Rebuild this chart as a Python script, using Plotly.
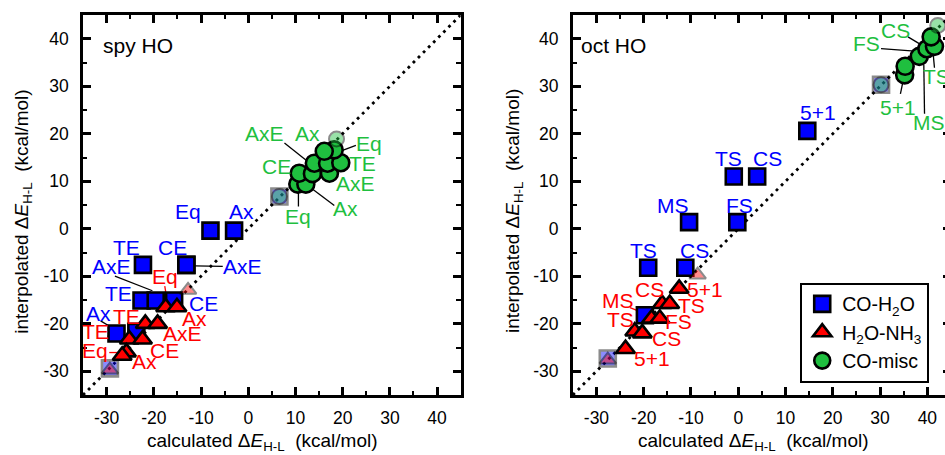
import plotly.graph_objects as go

# ---------------- data ----------------
tick_vals = [-30, -20, -10, 0, 10, 20, 30, 40]
tick_text = ["-30", "-20", "-10", "0", "10", "20", "30", "40"]
diag = [-35, 45]

# spy HO panel
spy_sq_x = [-8.0, -3.0, -22.3, -13.1, -13.1, -22.6, -19.6, -15.7, -27.9, -23.7]
spy_sq_y = [-0.4, -0.4, -7.6, -7.6, -7.6, -15.1, -15.1, -15.1, -22.05, -21.7]
spy_tri_x = [-17.5, -15.1, -21.8, -19.2, -25.2, -22.4, -25.8, -26.7]
spy_tri_y = [-16.5, -16.5, -20.0, -20.0, -23.3, -23.3, -26.0, -26.7]
spy_circ_x = [10.5, 12.2, 10.8, 13.6, 17.2, 14.0, 16.8, 19.6, 18.2, 16.1]
spy_circ_y = [9.4, 9.4, 11.7, 11.6, 11.7, 13.8, 13.8, 13.9, 16.6, 16.3]
spy_ref_sq_x = [-29.3, 6.6]
spy_ref_sq_y = [-29.4, 6.8]
spy_ref_tri_x = [-29.3, -12.75]
spy_ref_tri_y = [-29.7, -12.9]
spy_ref_circ_x = [6.6, 18.7]
spy_ref_circ_y = [6.8, 18.9]

# oct HO panel
oct_sq_x = [-0.95, 4.0, -10.4, -0.2, -19.05, -11.2, -19.75, 14.6]
oct_sq_y = [11.0, 11.0, 1.4, 1.4, -8.2, -8.2, -18.2, 20.6]
oct_tri_x = [-12.5, -16.1, -14.5, -18.35, -16.6, -21.9, -20.3, -23.85]
oct_tri_y = [-12.6, -15.8, -15.8, -18.9, -18.9, -21.6, -22.0, -25.3]
oct_circ_x = [35.2, 35.3, 38.3, 39.9, 41.5, 40.8]
oct_circ_y = [32.4, 34.2, 36.3, 37.9, 38.4, 40.4]
oct_ref_sq_x = [-27.6, 30.2]
oct_ref_sq_y = [-27.3, 30.3]
oct_ref_tri_x = [-27.6, -8.6]
oct_ref_tri_y = [-27.6, -9.7]
oct_ref_circ_x = [30.2, 42.2]
oct_ref_circ_y = [30.3, 42.8]

# labels
spy_lab_text = ["Eq", "Ax", "TE", "CE", "AxE", "AxE", "TE", "CE", "Ax",
                "Eq", "Ax", "TE", "AxE", "TE", "CE", "Eq", "Ax",
                "AxE", "Ax", "Eq", "TE", "CE", "AxE", "Ax", "Eq"]
spy_lab_x = [-12.8, -1.5, -25.8, -16.05, -1.3, -29.0, -27.5, -9.4, -31.8,
             -17.7, -11.3, -25.8, -13.9, -32.3, -17.7, -32.5, -21.9,
             3.45, 12.6, 25.6, 24.1, 5.9, 22.7, 20.7, 10.5]
spy_lab_y = [3.6, 3.6, -3.9, -3.9, -8.0, -8.0, -13.6, -15.7, -17.8,
             -10.1, -18.9, -18.5, -22.05, -21.7, -25.6, -25.6, -28.0,
             20.15, 20.15, 17.9, 13.7, 13.1, 9.6, 4.2, 2.6]
spy_lab_grp = ["b"] * 9 + ["r"] * 8 + ["g"] * 8

oct_lab_text = ["TS", "CS", "MS", "FS", "TS", "CS", "5+1",
                "5+1", "CS", "MS", "TS", "TS", "FS", "CS", "5+1",
                "CS", "FS", "5+1", "MS", "TS"]
oct_lab_x = [-2.15, 6.15, -13.8, 0.3, -20.1, -9.2, 16.9,
             -7.1, -18.7, -25.4, -9.8, -25.0, -12.6, -15.2, -18.35,
             33.2, 27.1, 33.75, 40.45, 41.85]
oct_lab_y = [14.7, 14.7, 5.0, 5.0, -4.5, -4.5, 24.4,
             -12.8, -12.8, -15.0, -16.1, -19.2, -19.5, -23.1, -27.3,
             41.8, 39.1, 25.6, 22.3, 32.0]
oct_lab_grp = ["b"] * 7 + ["r"] * 8 + ["g"] * 5

# leader lines: x0, y0, x1, y1, colour group
spy_lead_x0 = [-11.3, -28.24, -31.27, -17.68, -29.86, -29.44, 7.67, 22.8, 18.23, 10.63]
spy_lead_y0 = [-7.8, -9.96, -19.4, -12.07, -22.6, -26.06, 18.03, 17.53, 4.88, 4.67]
spy_lead_x1 = [-5.4, -20.3, -28.24, -17.19, -25.78, -27.33, 12.6, 19.99, 13.65, 10.63]
spy_lead_y1 = [-7.9, -13.05, -21.2, -15.02, -23.18, -26.06, 14.16, 16.48, 8.33, 7.83]
spy_lead_grp = ["k", "k", "k", "r", "r", "r", "k", "k", "k", "k"]

oct_lead_x0 = [-22.9, 30.2, 35.9, 34.3, 39.4, 41.5]
oct_lead_y0 = [-16.6, 37.9, 40.4, 28.4, 24.2, 33.9]
oct_lead_x1 = [-18.7, 37.3, 39.25, 35.0, 39.25, 41.15]
oct_lead_y1 = [-18.3, 37.4, 38.4, 31.75, 34.55, 37.7]
oct_lead_grp = ["r", "k", "k", "k", "k", "k"]

# ---------------- style ----------------
FONT = "Liberation Sans, Arial, sans-serif"
BLUE = "#0000FF"
RED = "#FF0000"
GREEN = "#1FBF3F"
COL = {"b": BLUE, "r": RED, "g": GREEN, "k": "black"}
LAB_SIZE = 21

W, H = 960, 455
ML, MR, MT, MB = 83, 6, 15, 60
PW = W - ML - MR
PH = H - MT - MB

fig = go.Figure()


def add_panel(xa, ya, sqx, sqy, trx, tr_y, cx, cy, rsx, rsy, rtx, rty, rcx, rcy, legend):
    fig.add_trace(go.Scatter(x=diag, y=diag, mode="lines", xaxis=xa, yaxis=ya,
                             line=dict(color="black", width=2.8, dash="2.8px,4.4px"),
                             showlegend=False, hoverinfo="skip"))
    fig.add_trace(go.Scatter(x=sqx, y=sqy, mode="markers", xaxis=xa, yaxis=ya,
                             name="CO-H<sub>2</sub>O", showlegend=legend,
                             marker=dict(symbol="square", size=16, color=BLUE,
                                         line=dict(color="black", width=2.6))))
    fig.add_trace(go.Scatter(x=trx, y=tr_y, mode="markers", xaxis=xa, yaxis=ya,
                             name="H<sub>2</sub>O-NH<sub>3</sub>", showlegend=legend,
                             marker=dict(symbol="triangle-up", size=16.5, color=RED,
                                         line=dict(color="black", width=2.6))))
    fig.add_trace(go.Scatter(x=cx, y=cy, mode="markers", xaxis=xa, yaxis=ya,
                             name="CO-misc", showlegend=legend,
                             marker=dict(symbol="circle", size=17, color=GREEN,
                                         line=dict(color="black", width=2.6))))
    fig.add_trace(go.Scatter(x=rsx, y=rsy, mode="markers", xaxis=xa, yaxis=ya,
                             showlegend=False,
                             marker=dict(symbol="square", size=16, color=BLUE, opacity=0.45,
                                         line=dict(color="black", width=2.6))))
    fig.add_trace(go.Scatter(x=rtx, y=rty, mode="markers", xaxis=xa, yaxis=ya,
                             showlegend=False,
                             marker=dict(symbol="triangle-up", size=14.5, color=RED, opacity=0.45,
                                         line=dict(color="black", width=2))))
    fig.add_trace(go.Scatter(x=rcx, y=rcy, mode="markers", xaxis=xa, yaxis=ya,
                             showlegend=False,
                             marker=dict(symbol="circle", size=15, color=GREEN, opacity=0.45,
                                         line=dict(color="black", width=2))))


add_panel("x", "y", spy_sq_x, spy_sq_y, spy_tri_x, spy_tri_y, spy_circ_x, spy_circ_y,
          spy_ref_sq_x, spy_ref_sq_y, spy_ref_tri_x, spy_ref_tri_y, spy_ref_circ_x, spy_ref_circ_y,
          False)
add_panel("x2", "y2", oct_sq_x, oct_sq_y, oct_tri_x, oct_tri_y, oct_circ_x, oct_circ_y,
          oct_ref_sq_x, oct_ref_sq_y, oct_ref_tri_x, oct_ref_tri_y, oct_ref_circ_x, oct_ref_circ_y,
          True)

annotations = []
shapes = []


def add_labels(xr, yr, texts, xs, ys, grps):
    for t, x, y, g in zip(texts, xs, ys, grps):
        annotations.append(dict(x=x, y=y, xref=xr, yref=yr, text=t, showarrow=False,
                                xanchor="center", yanchor="middle", borderpad=0,
                                font=dict(family=FONT, size=LAB_SIZE, color=COL[g])))


def add_leaders(xr, yr, x0s, y0s, x1s, y1s, grps):
    for x0, y0, x1, y1, g in zip(x0s, y0s, x1s, y1s, grps):
        shapes.append(dict(type="line", xref=xr, yref=yr, x0=x0, y0=y0, x1=x1, y1=y1,
                           line=dict(color=COL[g], width=1.3), layer="below"))


add_leaders("x", "y", spy_lead_x0, spy_lead_y0, spy_lead_x1, spy_lead_y1, spy_lead_grp)
add_leaders("x2", "y2", oct_lead_x0, oct_lead_y0, oct_lead_x1, oct_lead_y1, oct_lead_grp)
add_labels("x", "y", spy_lab_text, spy_lab_x, spy_lab_y, spy_lab_grp)
add_labels("x2", "y2", oct_lab_text, oct_lab_x, oct_lab_y, oct_lab_grp)

annotations.append(dict(x=-30.9, y=38.6, xref="x", yref="y", text="spy HO", showarrow=False,
                        xanchor="left", yanchor="middle", borderpad=0,
                        font=dict(family=FONT, size=LAB_SIZE, color="black")))
annotations.append(dict(x=-33.4, y=38.6, xref="x2", yref="y2", text="oct HO", showarrow=False,
                        xanchor="left", yanchor="middle", borderpad=0,
                        font=dict(family=FONT, size=LAB_SIZE, color="black")))


def px2paper_x(px):
    return (px - ML) / PW


def px2paper_y(py):
    return (H - MB - py) / PH


xtitle = "calculated \u0394<i>E</i><sub>H-L</sub>  (kcal/mol)"
ytitle = "interpolated \u0394<i>E</i><sub>H-L</sub>  (kcal/mol)"
for cx in (263, 756):
    annotations.append(dict(x=px2paper_x(cx), y=px2paper_y(441.7), xref="paper", yref="paper",
                            text=xtitle, showarrow=False, xanchor="center", yanchor="middle",
                            font=dict(family=FONT, size=19, color="black")))
for cx in (22, 515):
    annotations.append(dict(x=px2paper_x(cx), y=px2paper_y(211.5), xref="paper", yref="paper",
                            text=ytitle, showarrow=False, xanchor="center", yanchor="middle",
                            textangle=-90,
                            font=dict(family=FONT, size=19, color="black")))

axis_common = dict(range=[-35, 45], tickvals=tick_vals, ticktext=tick_text,
                   ticks="inside", ticklen=8, tickwidth=2.5, tickcolor="black",
                   showline=True, linewidth=2.6, linecolor="black", mirror="ticks",
                   showgrid=False, zeroline=False,
                   tickfont=dict(family=FONT, size=17.5, color="black"),
                   minor=dict(dtick=5, tick0=0, ticks="inside", ticklen=4.5, tickwidth=2,
                              tickcolor="black", showgrid=False))

left_dom = [0, 379 / PW]
right_dom = [(574.5 - ML) / PW, 1.0]

fig.update_layout(
    width=W, height=H,
    margin=dict(l=ML, r=MR, t=MT, b=MB),
    paper_bgcolor="white", plot_bgcolor="white",
    font=dict(family=FONT, color="black"),
    xaxis=dict(domain=left_dom, anchor="y", ticklabelstandoff=5, **axis_common),
    yaxis=dict(domain=[0, 1], anchor="x", ticklabelstandoff=8, **axis_common),
    xaxis2=dict(domain=right_dom, anchor="y2", ticklabelstandoff=5, **axis_common),
    yaxis2=dict(domain=[0, 1], anchor="x2", ticklabelstandoff=8, **axis_common),
    legend=dict(x=px2paper_x(802.7), y=px2paper_y(282.7), xanchor="left", yanchor="top",
                bordercolor="black", borderwidth=2, bgcolor="white",
                font=dict(family=FONT, size=19.5, color="black"),
                tracegroupgap=0, itemsizing="trace"),
    annotations=annotations,
    shapes=shapes,
)

fig.write_html("out.html", config={"displayModeBar": False},
               post_script="document.body.style.overflow='hidden';"
                           "document.documentElement.style.overflow='hidden';"
                           "document.body.style.margin='0';")
